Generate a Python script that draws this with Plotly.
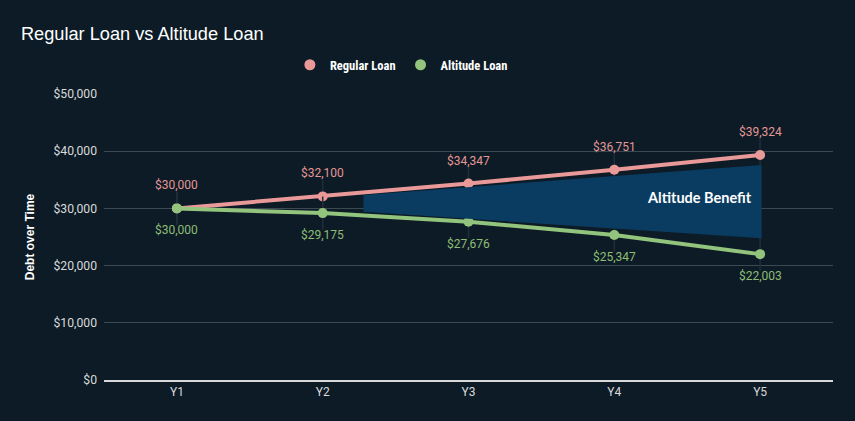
import plotly.graph_objects as go

categories = ["Y1", "Y2", "Y3", "Y4", "Y5"]
regular = [30000, 32100, 34347, 36751, 39324]
altitude = [30000, 29175, 27676, 25347, 22003]

# Altitude Benefit wedge corners (category index, value)
benefit_x = [1.28, 4.01, 4.01, 1.28]
benefit_y = [32350, 37600, 24800, 29400]
benefit_label = "Altitude Benefit"

BG = "#0c1b26"
RED = "#ea9999"
GREEN = "#93c47d"
RED_TXT = "#e49795"
GREEN_TXT = "#8fbd74"

fig = go.Figure()

# wedge
fig.add_trace(go.Scatter(
    x=benefit_x + [benefit_x[0]], y=benefit_y + [benefit_y[0]],
    xaxis="x2", mode="lines", fill="toself", fillcolor="#0a3c61",
    line=dict(width=0), hoverinfo="skip", showlegend=False))

for name, vals, col in [("Regular Loan", regular, RED), ("Altitude Loan", altitude, GREEN)]:
    fig.add_trace(go.Scatter(
        x=categories, y=vals, name=name, mode="lines+markers",
        line=dict(color=col, width=4),
        marker=dict(color=col, size=10),
        error_y=dict(type="constant", value=2900, color="#1f2f3a", thickness=1.5, width=0),
        showlegend=False, legendgroup=name,
    ))
    # legend entry (marker only)
    fig.add_trace(go.Scatter(
        x=[None], y=[None], name=name, mode="markers",
        marker=dict(color=col, size=11), legendgroup=name,
    ))

annotations = []
for i, c in enumerate(categories):
    annotations.append(dict(x=c, y=regular[i], text=f"${regular[i]:,}", showarrow=False,
                            yshift=23, font=dict(color=RED_TXT, size=12, family="Roboto")))
    annotations.append(dict(x=c, y=altitude[i], text=f"${altitude[i]:,}", showarrow=False,
                            yshift=-22, font=dict(color=GREEN_TXT, size=12, family="Roboto")))
annotations.append(dict(x=benefit_x[1] - 0.05, y=(benefit_y[1] + benefit_y[2]) / 2 + 700,
                        xref="x2", text=f"<b>{benefit_label}</b>", showarrow=False,
                        xanchor="right", font=dict(color="white", size=14.5, family="Lato")))

fig.update_layout(
    width=855, height=421,
    paper_bgcolor=BG, plot_bgcolor=BG,
    margin=dict(l=104, r=22, t=94, b=41),
    title=dict(text="Regular Loan vs Altitude Loan", x=0.0245, xanchor="left",
               y=0.92, yanchor="middle",
               font=dict(family="Liberation Sans, Arial", size=18.2, color="white")),
    legend=dict(orientation="h", x=0.255, xanchor="left", y=1.101, yanchor="middle",
                font=dict(family="Liberation Sans Narrow, Roboto Condensed, Roboto", size=12.5,
                          color="white", weight="bold"),
                itemwidth=30, tracegroupgap=0),
    xaxis=dict(type="category", range=[-0.5, 4.5], showgrid=False, zeroline=False,
               showline=True, linecolor="#d9d9d9", linewidth=1.5,
               tickfont=dict(family="Roboto", size=12, color="#d9d9d9"), ticks=""),
    xaxis2=dict(range=[-0.5, 4.5], overlaying="x", visible=False),
    yaxis=dict(range=[0, 50000], dtick=10000, tickprefix="$", tickformat=",",
               gridcolor="#3b4952", gridwidth=1, zeroline=False,
               ticklabelstandoff=6,
               tickfont=dict(family="Roboto", size=12.2, color="#d9d9d9"),
               title=dict(text="<b>Debt over Time</b>", standoff=16,
                          font=dict(family="Liberation Sans, Arial", size=12, color="white"))),
    annotations=annotations,
    hovermode=False,
)

fig.write_html("out.html", config={"displayModeBar": False},
               post_script="document.body.style.margin='0';document.body.style.background='#0c1b26';")
